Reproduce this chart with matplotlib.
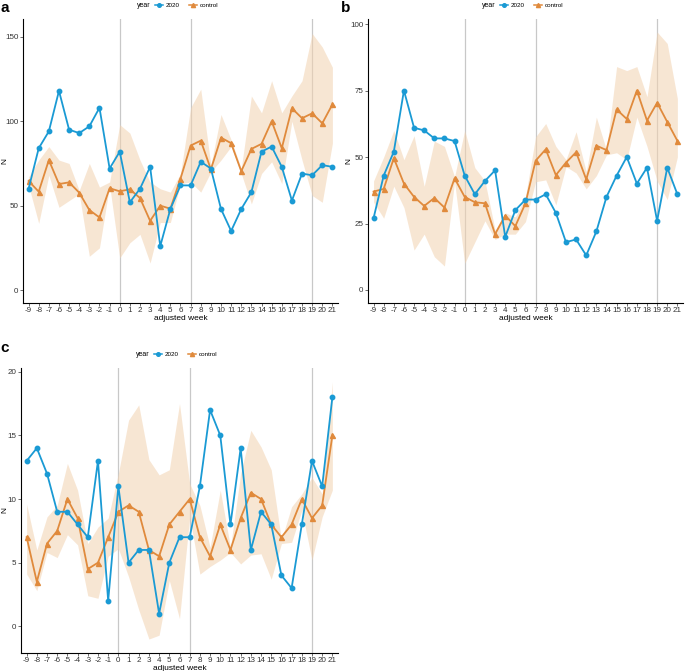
import numpy as np
import matplotlib.pyplot as plt
from matplotlib.lines import Line2D

# ---- data ----
weeks = list(range(-9, 22))

a_2020 = [60, 84, 94, 118, 95, 93, 97, 108, 72, 82, 52, 60, 73, 26, 48, 62,
          62, 76, 72, 48, 35, 48, 58, 82, 85, 73, 53, 69, 68, 74, 73]
a_ctrl = [64.6, 58.3, 77, 62.8, 63.8, 57.7, 47.4, 43, 60.3, 58.5, 59.7, 54.5, 41, 50, 48.2, 66,
          85.6, 88.5, 71.5, 90.3, 87, 70.4, 83.6, 86.6, 100, 84, 107.7, 101.8, 104.7, 98.8, 110]
a_hi = [67, 77, 85, 77, 75, 59, 75, 61, 64, 98, 93, 77, 64, 60, 58, 69,
        108, 119, 74, 104, 89, 72, 115, 105, 124, 105, 115, 124, 152, 144, 132]
a_lo = [62, 39.5, 68, 49, 53, 57, 20, 25, 62, 19, 28, 33, 16, 40, 40, 63,
        64, 58, 70, 77, 85, 69, 51, 69, 76, 63, 100, 77, 56, 52, 87]

b_2020 = [27, 43, 52, 75, 61, 60, 57, 57, 56, 43, 36, 41, 45, 20, 30, 34,
          34, 36, 29, 18, 19, 13, 22, 35, 43, 50, 40, 46, 26, 46, 36]
b_ctrl = [37, 38, 49.6, 40, 35, 31.6, 34.6, 31, 42, 35, 33, 32.6, 21, 28, 24, 32.6,
          48.6, 52.9, 43.2, 47.9, 51.8, 41.6, 54.3, 52.6, 67.9, 64.3, 75, 63.7, 70.4, 63.2, 56.1]
b_hi = [41, 50, 60, 49, 58, 39, 56, 54, 42.6, 60, 46, 41, 22.5, 29, 27.5, 35,
        57.6, 62.6, 54, 49, 59.5, 44.5, 65, 52.6, 84, 82.5, 84, 72.7, 97, 92.7, 72]
b_lo = [33, 27, 39, 31, 15, 21, 12.5, 9, 40.7, 10, 18, 26, 19, 21, 21, 25.7,
        40.7, 41.4, 32, 46.4, 44, 38, 43, 50.8, 51.6, 49, 65, 54, 41, 34, 50]

c_2020 = [13, 14, 12, 9, 9, 8, 7, 13, 2, 11, 5, 6, 6, 1, 5, 7,
          7, 11, 17, 15, 8, 14, 6, 9, 8, 4, 3, 8, 13, 11, 18]
c_ctrl = [7, 3.5, 6.5, 7.5, 10, 8.5, 4.5, 5, 7, 9, 9.5, 9, 6, 5.5, 8, 9,
          10, 7, 5.5, 8, 6, 8.5, 10.5, 10, 8, 7, 8, 10, 8.5, 9.5, 15]
c_hi = [9.6, 6, 8.6, 9.5, 12.8, 10.7, 6.5, 7.8, 8.5, 12, 16.2, 17.4, 13.1, 11.9, 12.3, 17.5,
        11.2, 9.5, 6.2, 10.7, 6.2, 12, 15.4, 14.1, 12.3, 6.8, 9.4, 10.4, 11.7, 10.4, 19.2]
c_lo = [4.1, 2.8, 5.8, 5.4, 7.2, 6.4, 2.4, 2.2, 5.5, 6.1, 3.9, 1.3, -1, -0.7, 3.6, 0.6,
        8.6, 4.1, 4.7, 5.2, 5.8, 4.9, 5.6, 5.7, 3.7, 6.5, 6.6, 9.1, 5.2, 8.6, 10.7]

vlines = [0, 7, 19]

BLUE = "#1A9AD4"
ORANGE = "#E08A3C"
RIBBON = "#F2D2B0"

plt.rcParams["font.family"] = ["Liberation Sans", "DejaVu Sans"]
plt.rcParams["axes.unicode_minus"] = False
fig = plt.figure(figsize=(6.85, 6.71), dpi=100)


def panel(rect, letter, s2020, sctrl, hi, lo, ylim, yticks, letter_xy, nx):
    ax = fig.add_axes(rect)
    for v in vlines:
        ax.axvline(v, color="#C8C8C8", linewidth=0.9, zorder=0)
    ax.fill_between(weeks, lo, hi, color=RIBBON, alpha=0.55, linewidth=0, zorder=1)
    ax.plot(weeks, s2020, color=BLUE, linewidth=1.3, marker="o", markersize=3.2, zorder=3)
    ax.plot(weeks, sctrl, color=ORANGE, linewidth=1.3, marker="^", markersize=3.6, zorder=2)
    ax.set_xlim(-9.55, 21.55)
    ax.set_ylim(*ylim)
    ax.set_xticks(weeks)
    ax.set_yticks(yticks)
    ax.tick_params(labelsize=5.8, length=2, width=0.5, pad=1.2, colors="#333333")
    for s in ["top", "right"]:
        ax.spines[s].set_visible(False)
    for s in ["left", "bottom"]:
        ax.spines[s].set_linewidth(0.8)
    ax.set_xlabel("adjusted week", fontsize=6, labelpad=0.5)
    ax.set_ylabel("N", fontsize=6)
    ax.yaxis.set_label_coords(nx, 0.5)
    # panel letter
    fig.text(letter_xy[0], letter_xy[1], letter, fontsize=11,
             fontweight="bold", va="top", ha="left")
    # legend
    ax.text(0.362, 1.047, "year", transform=ax.transAxes, fontsize=5,
            va="center", ha="left")
    handles = [Line2D([], [], color=BLUE, marker="o", markersize=2.6, linewidth=1.1),
               Line2D([], [], color=ORANGE, marker="^", markersize=3, linewidth=1.1)]
    ax.legend(handles, ["2020", "control"], ncol=2, frameon=False, fontsize=4.5,
              loc="center left", bbox_to_anchor=(0.418, 1.047), handlelength=1.3,
              handletextpad=0.5, columnspacing=1.4, borderaxespad=0, borderpad=0)
    return ax


panel([0.0336, 0.5484, 0.4598, 0.4233], "a", a_2020, a_ctrl, a_hi, a_lo,
      (-7.7, 160.6), [0, 50, 100, 150], (0.001, 0.999), -0.045)
panel([0.5372, 0.5484, 0.4598, 0.4233], "b", b_2020, b_ctrl, b_hi, b_lo,
      (-4.9, 101.9), [0, 25, 50, 75, 100], (0.497, 0.999), -0.048)
panel([0.0307, 0.0268, 0.4627, 0.4248], "c", c_2020, c_ctrl, c_hi, c_lo,
      (-2.1, 20.3), [0, 5, 10, 15, 20], (0.001, 0.492), -0.04)

fig.savefig("out.png", dpi=100)
